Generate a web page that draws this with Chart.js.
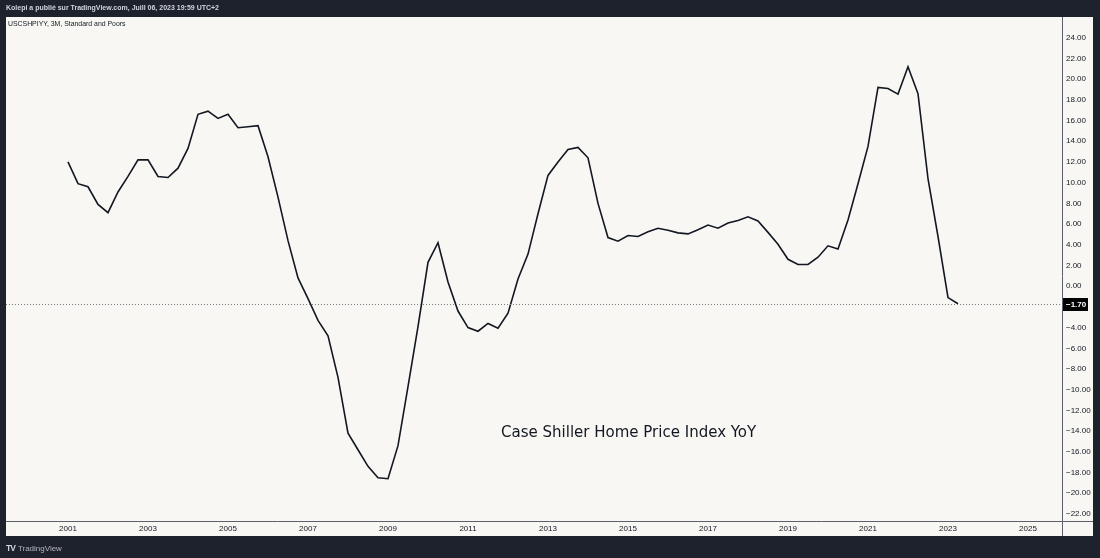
<!DOCTYPE html>
<html>
<head>
<meta charset="utf-8">
<script src="https://cdn.jsdelivr.net/npm/chart.js@4/dist/chart.umd.min.js"></script>
<style>
  html, body { margin: 0; padding: 0; background: #1e222d; }
  #wrap { position: relative; width: 1100px; height: 558px; overflow: hidden; }
  #wrap canvas { position: absolute; left: 0; top: 0; }
  .txt { position: absolute; white-space: nowrap; font-family: "Liberation Sans", sans-serif; }
  #header { left: 6px; top: 4px; font-size: 7px; color: #d1d4dc; font-weight: bold; }
  #symbol { left: 8px; top: 20px; font-size: 6.9px; color: #131722; }
  #note { left: 501px; top: 421px; font-size: 16.7px; color: #131722; font-family: "DejaVu Sans Condensed", "DejaVu Sans", sans-serif; }
  #brand { left: 6px; top: 543px; font-size: 8px; color: #b2b5be; }
  #brand b { font-size: 8.5px; letter-spacing: -1px; margin-right: 3px; color: #d1d4dc; }
</style>
</head>
<body>
<div id="wrap">
  <canvas id="chart" width="1100" height="558"></canvas>
  <div class="txt" id="header">Kolepi a publié sur TradingView.com, Juill 06, 2023 19:59 UTC+2</div>
  <div class="txt" id="symbol">USCSHPIYY, 3M, Standard and Poors</div>
  <div class="txt" id="note">Case Shiller Home Price Index YoY</div>
  <div class="txt" id="brand"><b>TV</b>TradingView</div>
</div>
<script>
// S&P Case-Shiller US National Home Price Index, YoY %, quarterly (3M) from 2001 Q1
const firstYear = 2001;
const yoy = [
  12.0, 9.9, 9.6, 7.9, 7.1, 9.1, 10.6, 12.2, 12.2, 10.6,
  10.5, 11.4, 13.3, 16.6, 16.9, 16.2, 16.6, 15.3, 15.4, 15.5,
  12.5, 8.6, 4.4, 0.8, -1.2, -3.3, -4.8, -8.8, -14.2, -15.8,
  -17.4, -18.5, -18.6, -15.4, -9.7, -3.9, 2.3, 4.2, 0.4, -2.4,
  -4.0, -4.35, -3.6, -4.05, -2.6, 0.7, 3.1, 7.0, 10.7, 12.0,
  13.2, 13.4, 12.4, 8.0, 4.7, 4.35, 4.9, 4.8, 5.25, 5.6,
  5.4, 5.15, 5.05, 5.45, 5.9, 5.6, 6.1, 6.35, 6.7, 6.3,
  5.2, 4.05, 2.6, 2.1, 2.1, 2.8, 3.9, 3.6, 6.4, 9.9,
  13.5, 19.2, 19.1, 18.55, 21.2, 18.6, 10.4, 4.8, -1.1, -1.7
];
const yearTicks = [2001, 2003, 2005, 2007, 2009, 2011, 2013, 2015, 2017, 2019, 2021, 2023, 2025];
const priceTicks = [-22, -20, -18, -16, -14, -12, -10, -8, -6, -4, -2, 0, 2, 4, 6, 8, 10, 12, 14, 16, 18, 20, 22, 24];

const points = yoy.map((v, i) => ({ x: firstYear + i / 4, y: v }));

const fmt = v => (v < 0 ? '\u2212' : '') + Math.abs(v).toFixed(2);

const frame = {
  id: 'frame',
  beforeDraw(chart) {
    const { ctx, chartArea: a, scales } = chart;
    const right = scales.y.right, bottom = scales.x.bottom;
    ctx.save();
    ctx.fillStyle = '#1e222d';
    ctx.fillRect(0, 0, chart.width, chart.height);
    ctx.fillStyle = '#f8f7f3';
    ctx.fillRect(a.left, a.top, right - a.left, bottom - a.top);
    ctx.strokeStyle = '#5d606b';
    ctx.lineWidth = 1;
    ctx.beginPath();
    ctx.moveTo(Math.round(a.right) + 0.5, a.top);
    ctx.lineTo(Math.round(a.right) + 0.5, bottom);
    ctx.moveTo(a.left, Math.round(a.bottom) + 0.5);
    ctx.lineTo(right, Math.round(a.bottom) + 0.5);
    ctx.stroke();
    ctx.restore();
  },
  afterDatasetsDraw(chart) {
    const { ctx, chartArea: a, scales } = chart;
    const last = yoy[yoy.length - 1];
    const y = Math.round(scales.y.getPixelForValue(last)) + 0.5;
    ctx.save();
    ctx.strokeStyle = '#787b86';
    ctx.setLineDash([1, 2]);
    ctx.lineWidth = 1;
    ctx.beginPath();
    ctx.moveTo(a.left, y);
    ctx.lineTo(a.right, y);
    ctx.stroke();
    ctx.setLineDash([]);
    ctx.fillStyle = '#000000';
    ctx.fillRect(a.right + 1, y - 6.5, 25, 13);
    ctx.fillStyle = '#ffffff';
    ctx.font = 'bold 8px "Liberation Sans", sans-serif';
    ctx.textBaseline = 'middle';
    ctx.fillText(fmt(last), a.right + 4, y + 0.5);
    ctx.restore();
  }
};

new Chart(document.getElementById('chart'), {
  type: 'line',
  data: {
    datasets: [{
      data: points,
      borderColor: '#131722',
      borderWidth: 1.6,
      pointRadius: 0,
      tension: 0,
      fill: false
    }]
  },
  options: {
    responsive: false,
    animation: false,
    layout: { padding: { left: 6, right: 7, top: 17, bottom: 22 } },
    plugins: { legend: { display: false }, tooltip: { enabled: false } },
    scales: {
      x: {
        type: 'linear',
        min: 1999.45,
        max: 2025.85,
        grid: { display: false, drawTicks: false },
        border: { display: false },
        afterBuildTicks: s => { s.ticks = yearTicks.map(v => ({ value: v })); },
        afterFit: s => { s.height = 15; },
        ticks: {
          autoSkip: false,
          maxRotation: 0,
          padding: 3,
          color: '#131722',
          font: { family: 'Liberation Sans', size: 8 },
          callback: v => String(v)
        }
      },
      y: {
        position: 'right',
        min: -22.68,
        max: 26,
        grid: { display: false, drawTicks: false },
        border: { display: false },
        afterBuildTicks: s => { s.ticks = priceTicks.map(v => ({ value: v })); },
        afterFit: s => { s.width = 31; },
        ticks: {
          padding: 4,
          color: '#131722',
          font: { family: 'Liberation Sans', size: 8 },
          callback: v => fmt(v)
        }
      }
    }
  },
  plugins: [frame]
});
</script>
</body>
</html>
